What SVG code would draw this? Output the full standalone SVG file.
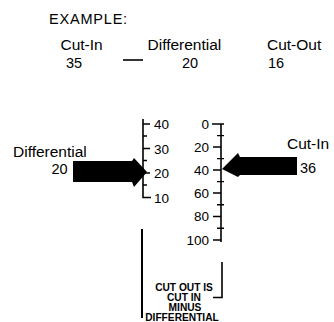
<svg xmlns="http://www.w3.org/2000/svg" width="334" height="322" viewBox="0 0 334 322">
<style>
text{font-family:"Liberation Sans",Arial,sans-serif;fill:#000}
.hd{font-size:15.5px}
.sc{font-size:13.5px}
.nt{font-size:10.2px;font-weight:bold;text-anchor:middle}
.ln{stroke:#000;stroke-width:1.6;fill:none}
.tk{stroke:#000;stroke-width:1.4;fill:none}
.ar{fill:#000;stroke:none}
</style>
<rect width="334" height="322" fill="#fff"/>
<g id="example">
<text x="49" y="23.5" class="hd" style="font-size:14.5px;letter-spacing:0.8px">EXAMPLE:</text>
<text x="60.5" y="50" class="hd">Cut-In</text>
<text x="66" y="68" class="hd" style="font-size:14.5px">35</text>
<line x1="123" y1="60" x2="143" y2="60" class="ln"/>
<text x="147.5" y="50" class="hd">Differential</text>
<text x="182" y="68" class="hd" style="font-size:14.5px">20</text>
<text x="267" y="50" class="hd">Cut-Out</text>
<text x="268" y="68" class="hd" style="font-size:14.5px">16</text>
</g>
<g id="differential-scale">
<path class="ln" d="M143,119 V197.5 H151"/>
<path class="tk" d="M143,124 H150 M143,136 H147 M143,148.5 H150 M143,160.5 H147 M143,173 H150 M143,185 H147"/>
<text x="154" y="129" class="sc">40</text>
<text x="154" y="153.5" class="sc">30</text>
<text x="154" y="178" class="sc">20</text>
<text x="154" y="202.5" class="sc">10</text>
</g>
<g id="cutin-scale">
<path class="ln" d="M221,124 V242"/>
<path class="tk" d="M212,124 H224 M217,135.6 H224 M213,147 H221 M217,158.6 H224 M213,170 H221 M217,181.6 H224 M213,193 H221 M217,204.8 H224 M213,216.5 H221 M217,228.2 H224 M213,240 H221"/>
<g style="text-anchor:end">
<text x="209" y="128.5" class="sc">0</text>
<text x="209" y="151.5" class="sc">20</text>
<text x="209" y="174.5" class="sc">40</text>
<text x="209" y="197.5" class="sc">60</text>
<text x="209" y="221" class="sc">80</text>
<text x="209" y="245" class="sc">100</text>
</g>
</g>
<g id="differential-label">
<text x="13" y="157" class="hd">Differential</text>
<text x="51.5" y="173.5" class="hd" style="font-size:14.5px">20</text>
</g>
<g id="cutin-label">
<text x="287" y="149" class="hd">Cut-In</text>
<text x="300" y="172.5" class="hd" style="font-size:14.5px">36</text>
</g>
<g id="note">
<line x1="142" y1="229" x2="142" y2="318" class="ln" style="stroke-width:2"/>
<path class="ln" d="M222,262 V297.5 H213"/>
<text x="184" y="290.5" class="nt">CUT OUT IS</text>
<text x="184" y="300.8" class="nt">CUT IN</text>
<text x="185" y="311" class="nt">MINUS</text>
<text x="182" y="321.2" class="nt">DIFFERENTIAL</text>
</g>
<g id="connectors">
<polygon class="ar" points="73,161 132,161 134,158 147,172 134,187 132,182 73,182"/>
<polygon class="ar" points="297,157 240,157 238,153 222,169 238,177 240,175 297,175"/>
</g>
</svg>
